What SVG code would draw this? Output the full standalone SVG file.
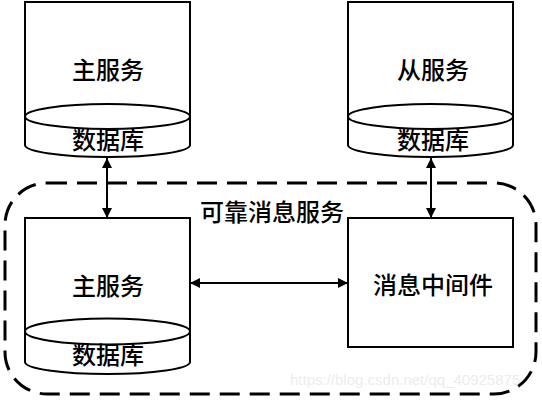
<svg xmlns="http://www.w3.org/2000/svg" width="542" height="402" viewBox="0 0 542 402">
<style>
.shape{fill:#fff;stroke:#000;stroke-width:2}
.ell{fill:#fff;stroke:#000;stroke-width:2}
.t{font-family:"Noto Sans CJK SC","Noto Sans",sans-serif;font-size:24px;font-weight:500;fill:#000;text-anchor:middle;dominant-baseline:central}
.conn{stroke:#000;stroke-width:2;fill:none;marker-start:url(#ah);marker-end:url(#ah)}
.wm{font-family:"Liberation Sans",sans-serif;font-size:15px;fill:#ececec}
</style>
<defs>
<marker id="ah" viewBox="0 0 10 10" refX="10" refY="5" markerWidth="10" markerHeight="10" markerUnits="userSpaceOnUse" orient="auto-start-reverse">
<path d="M0,0 L10,5 L0,10 Z" fill="#000"/>
</marker>
</defs>
<rect x="5" y="183" width="531" height="211" rx="42" ry="42" fill="none" stroke="#000" stroke-width="3" stroke-dasharray="20 10"/>
<text class="t" x="272" y="210">可靠消息服务</text>
<g id="main-service-top">
<path class="shape" d="M25,2 H190 V145 A82.5,12 0 0 1 25,145 Z"/>
<ellipse class="ell" cx="107.5" cy="116.5" rx="82.5" ry="12.5"/>
<text class="t" x="108" y="68">主服务</text>
<text class="t" x="108" y="138">数据库</text>
</g>
<g id="slave-service">
<path class="shape" d="M348,2 H513 V145 A82.5,12 0 0 1 348,145 Z"/>
<ellipse class="ell" cx="430.5" cy="116.5" rx="82.5" ry="12.5"/>
<text class="t" x="433" y="68">从服务</text>
<text class="t" x="433" y="138">数据库</text>
</g>
<g id="main-service-bottom">
<path class="shape" d="M25,218 H190 V362 A82.5,12 0 0 1 25,362 Z"/>
<ellipse class="ell" cx="107.5" cy="331.5" rx="82.5" ry="13"/>
<text class="t" x="108" y="284">主服务</text>
<text class="t" x="108" y="353">数据库</text>
</g>
<g id="mq">
<rect class="shape" x="348" y="218" width="165" height="129"/>
<text class="t" x="433" y="283">消息中间件</text>
</g>
<g id="connectors">
<line class="conn" x1="107" y1="158" x2="107" y2="218"/>
<line class="conn" x1="431" y1="158" x2="431" y2="218"/>
<line class="conn" x1="190" y1="283" x2="348" y2="283"/>
</g>
<text class="wm" x="290" y="385">https://blog.csdn.net/qq_40925875</text>
</svg>
